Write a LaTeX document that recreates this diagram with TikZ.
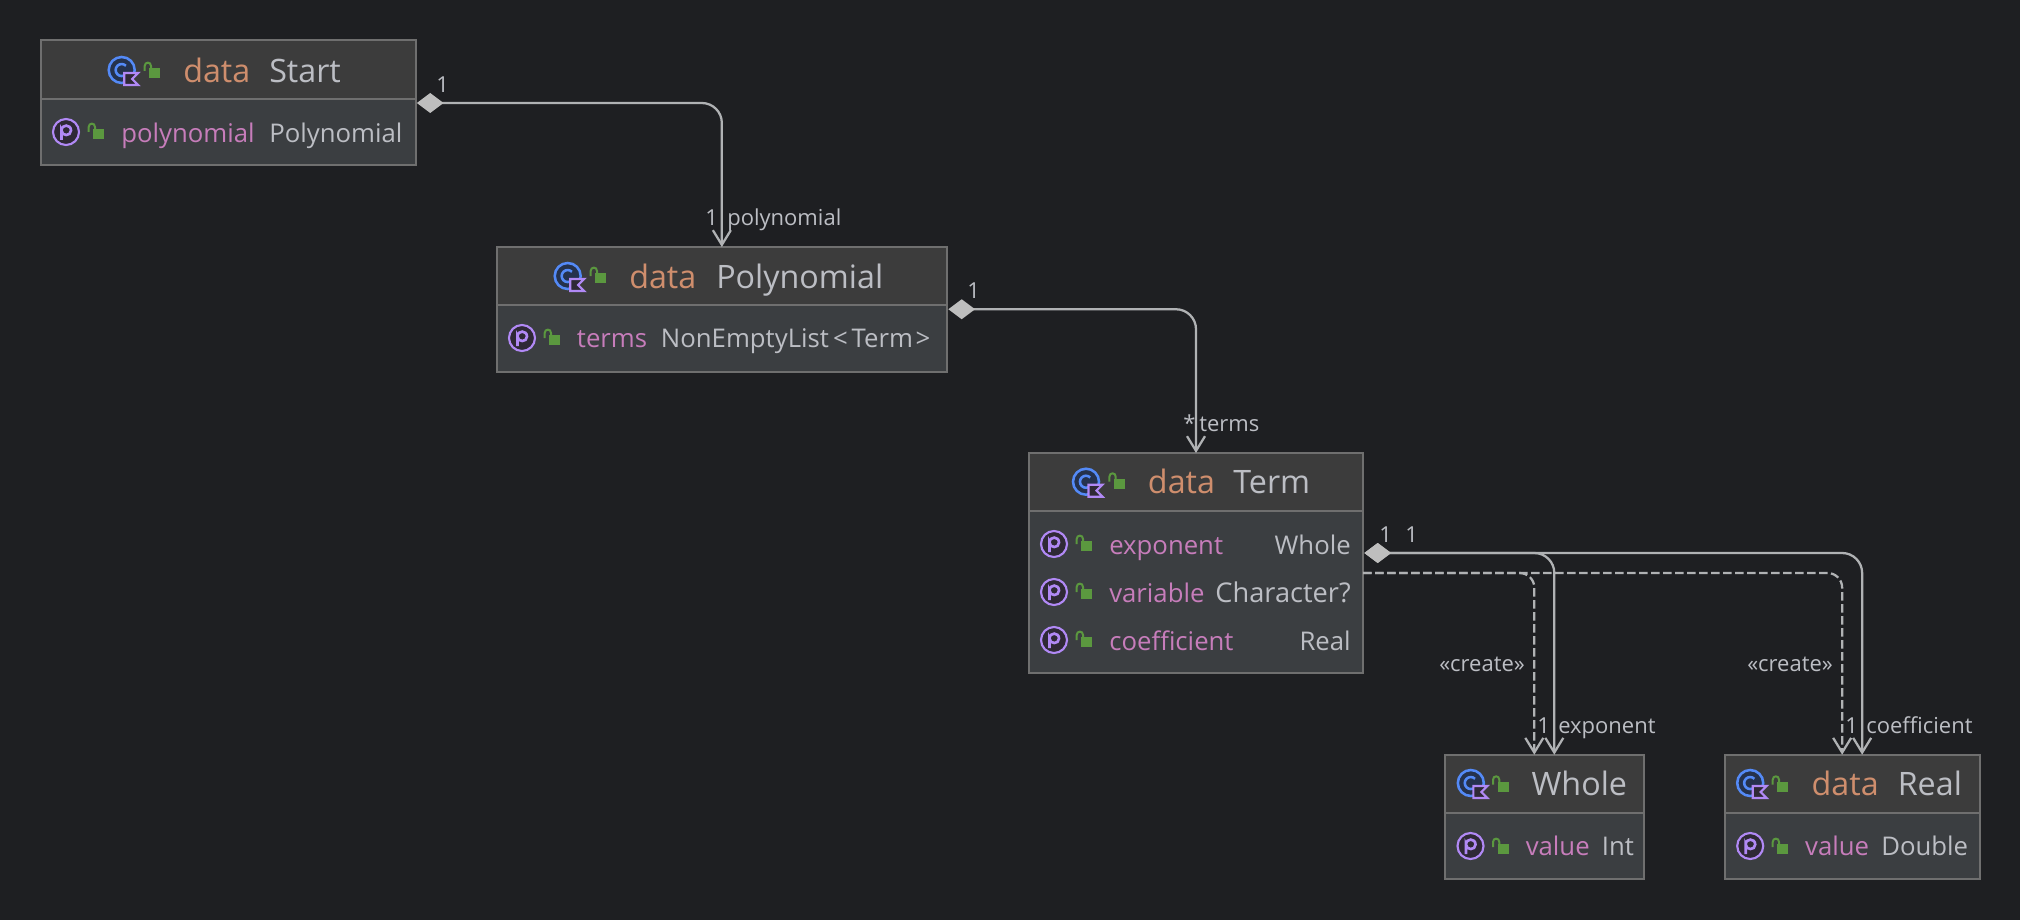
\documentclass[tikz,border=0pt]{standalone}
\usepackage{fontspec}
\setmainfont{Open Sans}
\usetikzlibrary{arrows.meta}
\definecolor{bgc}{HTML}{1E1F22}
\definecolor{headc}{HTML}{3C3C3C}
\definecolor{bodyc}{HTML}{3B3E41}
\definecolor{edgec}{HTML}{6F6F6F}
\definecolor{linec}{HTML}{B0B2B4}
\definecolor{tipc}{HTML}{BEBEBE}
\definecolor{kwc}{HTML}{CF8E6D}
\definecolor{namec}{HTML}{BCBEC4}
\definecolor{propc}{HTML}{C77DBB}
\definecolor{lockc}{HTML}{5B983F}
\definecolor{bluec}{HTML}{548AF7}
\definecolor{bluefill}{HTML}{25324D}
\definecolor{purplec}{HTML}{B189F5}
\definecolor{purplefill}{HTML}{2F2936}
\tikzset{
  umlbox/.style={draw=edgec,fill=bodyc,line width=1.5pt,inner sep=0pt,outer sep=0pt,rectangle},
  titlekw/.style={anchor=base west,inner sep=0pt,yshift=-0.7pt,text=kwc,font=\fontsize{24.2pt}{26pt}\selectfont},
  titlename/.style={anchor=base west,inner sep=0pt,yshift=-0.7pt,text=namec,font=\fontsize{24.2pt}{26pt}\selectfont},
  member/.style={anchor=base west,inner sep=0pt,yshift=-0.7pt,text=propc,font=\fontsize{19.3pt}{22pt}\selectfont},
  mtype/.style={anchor=base west,inner sep=0pt,yshift=-0.7pt,text=namec,font=\fontsize{19.3pt}{22pt}\selectfont},
  mtyper/.style={anchor=base east,inner sep=0pt,yshift=-0.7pt,text=namec,font=\fontsize{19.3pt}{22pt}\selectfont},
  elabel/.style={anchor=base west,inner sep=0pt,text=namec,font=\fontsize{16.5pt}{18pt}\selectfont},
  comp/.style={draw=linec,line width=1.7pt,rounded corners=15pt,shorten <=1pt,
    {Diamond[length=20pt,width=15pt,fill=tipc,color=tipc]}-{Straight Barb[length=11pt,width=13.5pt]}},
  dep/.style={draw=linec,line width=1.7pt,rounded corners=11pt,dash pattern=on 6.4pt off 2.6pt,
    -{Straight Barb[length=11pt,width=13.5pt]}},
  classicon/.pic={
    \draw[bluec,fill=bluefill,line width=1.9pt] (0,0) circle[radius=13];
    \draw[bluec,line width=1.9pt] (4.2,-4.2) arc[start angle=-45,end angle=-315,radius=6];
    \draw[purplec,fill=purplefill,line width=1.6pt,line join=miter] (2.5,3) -- (16.5,3) -- (10.5,9) -- (16.5,15) -- (2.5,15) -- cycle;
  },
  propicon/.pic={
    \draw[purplec,fill=purplefill,line width=1.6pt] (0,0) circle[radius=13];
    \draw[purplec,line width=2pt] (-4.5,-1.5) .. controls (-4.5,-8) and (5,-8) .. (5,-1.5) .. controls (5,4.5) and (-4.5,4.5) .. (-4.5,-1.5) -- (-4.5,8);
  },
  lockicon/.pic={
    \fill[lockc] (-2.8,-3.7) rectangle (8.2,5.8);
    \draw[lockc,line width=1.5pt] (-7.3,-1) -- (-7.3,-6) .. controls (-7.3,-10.5) and (-1,-10.5) .. (-1,-6) -- (-1,-3.7);
  },
}
% name, x1, y1, x2, y2, divider y
\newcommand{\umlclass}[6]{%
  \node[umlbox,minimum width={(#4-#2)*0.75pt},minimum height={(#5-#3)*0.75pt}] (#1) at ({(#2+#4)/2},{(#3+#5)/2}) {};
  \fill[headc] (#2+1,#3+1) rectangle (#4-1,#6);
  \draw[edgec,line width=1.5pt] (#2,#6) -- (#4,#6);
}
\begin{document}
\begin{tikzpicture}[x=0.75pt,y=-0.75pt]
\fill[bgc] (0,0) rectangle (2020,920);
\useasboundingbox (0,0) rectangle (2020,920);

% Start
\umlclass{start}{41}{40.5}{415.5}{165.5}{99}
\pic at (121.7,70) {classicon};
\pic at (152,72) {lockicon};
\node[titlekw] (startkw) at (183,81.7) {data};
\node[titlename] (startname) at (269,81.7) {Start};
\pic at (66,132) {propicon};
\pic at (96,133) {lockicon};
\node[member] (startp) at (121,141.7) {polynomial};
\node[mtype] (startt) at (269,141.7) {Polynomial};

% Polynomial
\umlclass{poly}{496.7}{247}{947}{371.5}{305}
\pic at (567.7,276) {classicon};
\pic at (598,277) {lockicon};
\node[titlekw] (polykw) at (629,287.7) {data};
\node[titlename] (polyname) at (716,287.7) {Polynomial};
\pic at (522,338) {propicon};
\pic at (552,339) {lockicon};
\node[member] (polyp) at (576.7,347) {terms};
\node[mtype] (polyt) at (660.7,347) {NonEmptyList\kern3pt<\kern3pt Term\kern2pt>};

% Term
\umlclass{term}{1029}{453}{1363}{673}{511}
\pic at (1086,481.7) {classicon};
\pic at (1116.7,482.7) {lockicon};
\node[titlekw] (termkw) at (1147.7,493) {data};
\node[titlename] (termname) at (1233,493) {Term};
\pic at (1054,544) {propicon};
\pic at (1084,545) {lockicon};
\node[member] (termp1) at (1109,553.3) {exponent};
\node[mtyper] (termt1) at (1351,553.3) {Whole};
\pic at (1054,592) {propicon};
\pic at (1084,593) {lockicon};
\node[member] (termp2) at (1109,601.3) {variable};
\node[mtyper,font=\fontsize{20.4pt}{22pt}\selectfont] (termt2) at (1351,601.3) {Character?};
\pic at (1054,640) {propicon};
\pic at (1084,641) {lockicon};
\node[member] (termp3) at (1109,649.3) {coefficient};
\node[mtyper] (termt3) at (1351,649.3) {Real};

% Whole
\umlclass{whole}{1444.8}{754.7}{1643.8}{879}{812.7}
\pic at (1470.8,783) {classicon};
\pic at (1500.3,785.7) {lockicon};
\node[titlename] (wholename) at (1531.3,795) {Whole};
\pic at (1470.5,846) {propicon};
\pic at (1500.3,848) {lockicon};
\node[member] (wholep) at (1525.5,855) {value};
\node[mtype] (wholet) at (1601.7,855) {Int};

% Real
\umlclass{real}{1724.5}{754.7}{1979.8}{879}{812.7}
\pic at (1750.2,783) {classicon};
\pic at (1780,785.7) {lockicon};
\node[titlekw] (realkw) at (1811.4,795) {data};
\node[titlename] (realname) at (1897.5,795) {Real};
\pic at (1750.2,846) {propicon};
\pic at (1780,848) {lockicon};
\node[member] (realp) at (1804.9,855) {value};
\node[mtype] (realt) at (1881,855) {Double};

% Connectors
\draw[dep] ([yshift=-7.5pt]term.east) -| ([xshift=-7.5pt]whole.north);
\draw[dep] ([yshift=-7.5pt]term.east) -| ([xshift=-7.5pt]real.north);
\draw[comp] (start.east) -| (poly.north);
\draw[comp] (poly.east) -| (term.north);
\draw[comp] ([yshift=7.5pt]term.east) -| ([xshift=7.5pt]whole.north);
\draw[comp] ([yshift=7.5pt]term.east) -| ([xshift=7.5pt]real.north);

% Edge labels
\node[elabel] (l1) at (436,92.7) {1};
\node[elabel] (l2) at (705,225.7) {1};
\node[elabel] (l3) at (727,225.7) {polynomial};
\node[elabel] (l4) at (967,298) {1};
\node[elabel] (l5) at (1183,431.7) {*};
\node[elabel] (l6) at (1199,431.7) {terms};
\node[elabel] (l7) at (1379,542.7) {1};
\node[elabel] (l8) at (1405,542.7) {1};
\node[elabel] (l9) at (1439,671.7) {«create»};
\node[elabel] (l10) at (1537,733) {1};
\node[elabel] (l11) at (1558,733) {exponent};
\node[elabel] (l12) at (1747,671.7) {«create»};
\node[elabel] (l13) at (1845,733) {1};
\node[elabel] (l14) at (1866,733) {coefficient};
\end{tikzpicture}
\end{document}
